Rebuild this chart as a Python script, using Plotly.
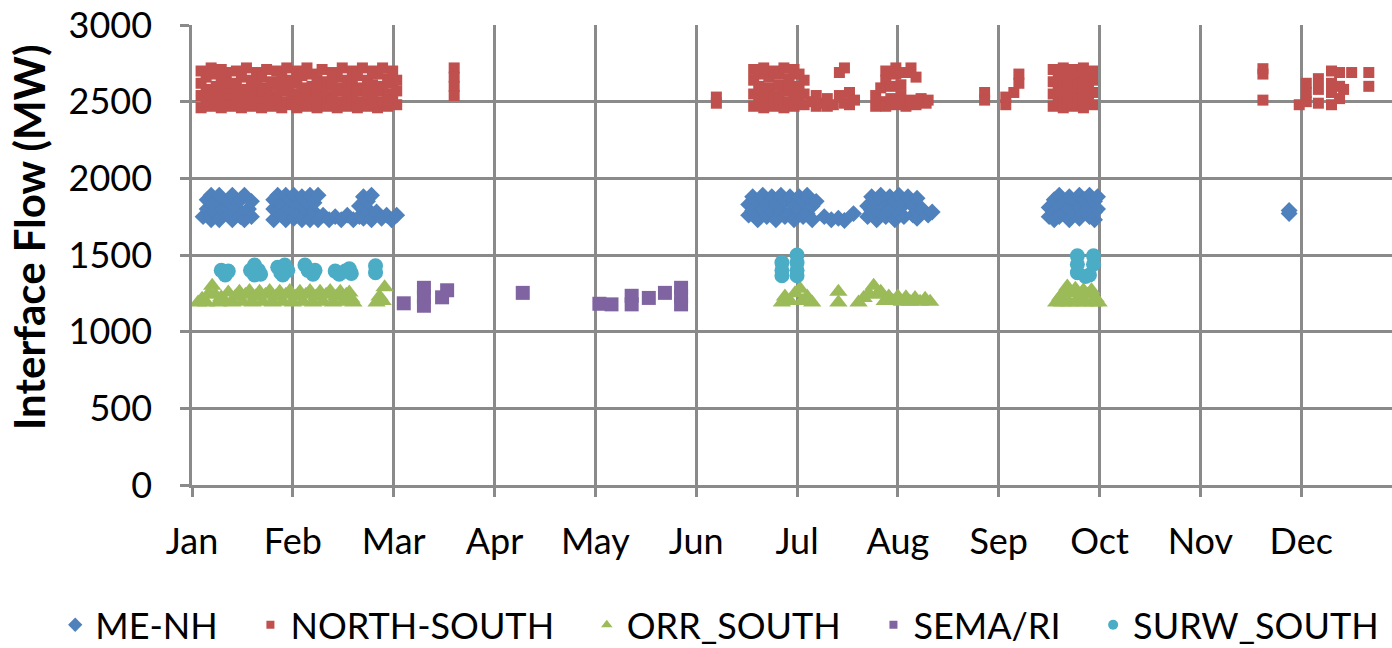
import plotly.graph_objects as go

# ---------------- data ----------------
months = ["Jan", "Feb", "Mar", "Apr", "May", "Jun", "Jul", "Aug", "Sep", "Oct", "Nov", "Dec"]
month_pos = list(range(12))          # x position of each month start (month units)
y_ticks = [0, 500, 1000, 1500, 2000, 2500, 3000]

series_names = ["ME-NH", "NORTH-SOUTH", "ORR_SOUTH", "SEMA/RI", "SURW_SOUTH"]
series_colors = ["#4F81BD", "#C0504D", "#9BBB59", "#8064A2", "#4BACC6"]

# (month position, MW)
me_nh = [
    (0.11, 1750), (0.15, 1800), (0.15, 1860), (0.19, 1730), (0.19, 1890), (0.23, 1780), (0.23, 1840),
    (0.27, 1730), (0.27, 1890), (0.31, 1800), (0.36, 1760), (0.36, 1850), (0.40, 1730), (0.40, 1890),
    (0.44, 1810), (0.48, 1750), (0.48, 1860), (0.52, 1890), (0.52, 1730), (0.56, 1800), (0.59, 1750),
    (0.59, 1850),
    (0.81, 1730), (0.81, 1800), (0.81, 1860), (0.85, 1890), (0.89, 1760), (0.89, 1830), (0.93, 1730),
    (0.93, 1890), (0.97, 1800), (0.97, 1860), (1.01, 1740), (1.01, 1890), (1.05, 1820), (1.05, 1770),
    (1.09, 1730), (1.09, 1880), (1.13, 1800), (1.13, 1850), (1.17, 1730), (1.17, 1890), (1.21, 1780),
    (1.21, 1840), (1.25, 1730), (1.25, 1890), (1.30, 1760), (1.36, 1730), (1.42, 1750), (1.48, 1730),
    (1.54, 1760), (1.60, 1730), (1.66, 1750), (1.66, 1820), (1.70, 1880), (1.70, 1740), (1.74, 1800),
    (1.74, 1850), (1.78, 1730), (1.78, 1890), (1.83, 1780), (1.88, 1740), (1.93, 1760), (1.98, 1730),
    (2.03, 1760),
    (5.52, 1760), (5.52, 1830), (5.56, 1790), (5.56, 1880), (5.61, 1730), (5.61, 1850), (5.66, 1800),
    (5.66, 1890), (5.70, 1750), (5.70, 1840), (5.75, 1880), (5.75, 1780), (5.79, 1730), (5.79, 1830),
    (5.84, 1890), (5.84, 1790), (5.88, 1750), (5.88, 1850), (5.93, 1880), (5.93, 1770), (5.97, 1730),
    (5.97, 1820), (6.02, 1880), (6.02, 1790), (6.06, 1750), (6.06, 1850), (6.10, 1890), (6.10, 1770),
    (6.15, 1730), (6.15, 1820), (6.19, 1850), (6.27, 1750), (6.34, 1730), (6.41, 1740), (6.47, 1725),
    (6.56, 1770),
    (6.70, 1750), (6.70, 1820), (6.74, 1880), (6.74, 1790), (6.79, 1730), (6.79, 1850), (6.83, 1890),
    (6.83, 1770), (6.88, 1750), (6.88, 1820), (6.92, 1880), (6.92, 1790), (6.97, 1730), (6.97, 1850),
    (7.01, 1890), (7.01, 1770), (7.06, 1750), (7.06, 1830), (7.10, 1880), (7.15, 1760), (7.15, 1820),
    (7.19, 1870), (7.19, 1740), (7.24, 1800), (7.30, 1760), (7.34, 1780),
    (8.50, 1750), (8.50, 1810), (8.55, 1860), (8.55, 1780), (8.55, 1730), (8.60, 1890), (8.60, 1820),
    (8.60, 1750), (8.65, 1840), (8.65, 1770), (8.70, 1880), (8.70, 1800), (8.70, 1730), (8.75, 1850),
    (8.75, 1770), (8.80, 1890), (8.80, 1810), (8.80, 1740), (8.85, 1860), (8.85, 1780), (8.90, 1890),
    (8.90, 1820), (8.90, 1750), (8.95, 1850), (8.95, 1780), (8.95, 1730), (8.98, 1880), (8.98, 1800),
    (10.88, 1770), (10.88, 1790),
]

north_south = [
    (0.09, 2460), (0.09, 2540), (0.09, 2620), (0.09, 2700), (0.14, 2500), (0.14, 2580), (0.14, 2660),
    (0.19, 2470), (0.19, 2550), (0.19, 2720), (0.24, 2510), (0.24, 2600), (0.24, 2680), (0.29, 2460),
    (0.29, 2560), (0.29, 2640), (0.29, 2710), (0.34, 2500), (0.34, 2590), (0.34, 2690), (0.39, 2470),
    (0.39, 2550), (0.39, 2620), (0.44, 2520), (0.44, 2600), (0.44, 2700), (0.49, 2460), (0.49, 2560),
    (0.49, 2660), (0.54, 2500), (0.54, 2580), (0.54, 2720), (0.59, 2470), (0.59, 2540), (0.59, 2640),
    (0.64, 2510), (0.64, 2600), (0.64, 2690), (0.69, 2460), (0.69, 2560), (0.69, 2660), (0.74, 2500),
    (0.74, 2590), (0.74, 2710), (0.79, 2470), (0.79, 2540), (0.79, 2630), (0.84, 2510), (0.84, 2610),
    (0.84, 2700), (0.89, 2460), (0.89, 2570), (0.89, 2660), (0.94, 2500), (0.94, 2600), (0.94, 2720),
    (0.99, 2480), (0.99, 2550), (0.99, 2640), (1.04, 2460), (1.04, 2530), (1.04, 2620), (1.04, 2700),
    (1.09, 2500), (1.09, 2590), (1.09, 2670), (1.14, 2470), (1.14, 2550), (1.14, 2720), (1.19, 2510),
    (1.19, 2600), (1.19, 2680), (1.24, 2460), (1.24, 2560), (1.24, 2640), (1.29, 2500), (1.29, 2590),
    (1.29, 2710), (1.34, 2470), (1.34, 2540), (1.34, 2630), (1.39, 2510), (1.39, 2610), (1.39, 2690),
    (1.44, 2460), (1.44, 2570), (1.44, 2660), (1.49, 2500), (1.49, 2590), (1.49, 2720), (1.54, 2470),
    (1.54, 2550), (1.54, 2640), (1.59, 2510), (1.59, 2600), (1.59, 2700), (1.64, 2460), (1.64, 2570),
    (1.64, 2670), (1.69, 2500), (1.69, 2590), (1.69, 2720), (1.74, 2470), (1.74, 2550), (1.74, 2640),
    (1.79, 2520), (1.79, 2610), (1.79, 2700), (1.84, 2460), (1.84, 2570), (1.84, 2680), (1.89, 2500),
    (1.89, 2600), (1.89, 2720), (1.94, 2470), (1.94, 2550), (1.94, 2650), (1.99, 2510), (1.99, 2620),
    (1.99, 2700), (2.03, 2480), (2.03, 2570), (2.03, 2640),
    (2.60, 2720), (2.60, 2660), (2.60, 2600), (2.60, 2540),
    (5.20, 2530), (5.20, 2490),
    (5.57, 2470), (5.57, 2550), (5.57, 2640), (5.57, 2710), (5.62, 2510), (5.62, 2600), (5.62, 2680),
    (5.67, 2460), (5.67, 2560), (5.67, 2720), (5.72, 2500), (5.72, 2590), (5.72, 2660), (5.77, 2470),
    (5.77, 2540), (5.77, 2700), (5.82, 2520), (5.82, 2610), (5.82, 2680), (5.87, 2460), (5.87, 2570),
    (5.87, 2720), (5.92, 2500), (5.92, 2580), (5.92, 2650), (5.97, 2470), (5.97, 2560), (5.97, 2710),
    (6.02, 2510), (6.02, 2600), (6.02, 2680), (6.07, 2480), (6.07, 2550), (6.07, 2640),
    (6.14, 2500), (6.19, 2470), (6.19, 2540), (6.25, 2490), (6.30, 2520), (6.30, 2470), (6.36, 2480),
    (6.42, 2540), (6.42, 2690), (6.47, 2490), (6.47, 2720), (6.52, 2560), (6.52, 2480), (6.57, 2510),
    (6.78, 2470), (6.78, 2540), (6.83, 2500), (6.83, 2590), (6.88, 2470), (6.88, 2640), (6.88, 2700),
    (6.93, 2520), (6.93, 2600), (6.98, 2480), (6.98, 2680), (6.98, 2720), (7.03, 2540), (7.03, 2610),
    (7.08, 2470), (7.08, 2690), (7.13, 2510), (7.13, 2720), (7.18, 2480), (7.18, 2660), (7.23, 2520),
    (7.28, 2490), (7.30, 2510),
    (7.86, 2560), (7.86, 2510), (8.07, 2480), (8.07, 2530), (8.20, 2680), (8.20, 2620), (8.15, 2560),
    (8.54, 2470), (8.54, 2550), (8.54, 2630), (8.54, 2710), (8.59, 2500), (8.59, 2590), (8.59, 2680),
    (8.64, 2460), (8.64, 2540), (8.64, 2620), (8.64, 2720), (8.69, 2510), (8.69, 2600), (8.69, 2670),
    (8.74, 2470), (8.74, 2560), (8.74, 2640), (8.74, 2710), (8.79, 2500), (8.79, 2590), (8.79, 2680),
    (8.84, 2460), (8.84, 2550), (8.84, 2620), (8.84, 2720), (8.89, 2510), (8.89, 2600), (8.89, 2670),
    (8.93, 2480), (8.93, 2560), (8.93, 2640), (8.93, 2700),
    (10.62, 2715), (10.62, 2680), (10.62, 2510),
    (10.98, 2480), (11.05, 2620), (11.05, 2560), (11.05, 2500), (11.17, 2650), (11.17, 2580),
    (11.17, 2490), (11.30, 2700), (11.30, 2620), (11.30, 2560), (11.30, 2480), (11.38, 2690),
    (11.38, 2600), (11.38, 2520), (11.42, 2580), (11.50, 2690), (11.67, 2690), (11.67, 2600),
]

orr_south = [
    (0.06, 1190), (0.10, 1215), (0.14, 1190), (0.17, 1250), (0.20, 1300), (0.23, 1240), (0.26, 1190),
    (0.29, 1225), (0.33, 1195), (0.36, 1255), (0.40, 1190), (0.43, 1230), (0.47, 1260), (0.50, 1195),
    (0.53, 1240), (0.57, 1265), (0.60, 1190), (0.63, 1230), (0.67, 1260), (0.70, 1195), (0.73, 1240),
    (0.77, 1265), (0.80, 1190), (0.83, 1230), (0.87, 1260), (0.90, 1195), (0.93, 1240), (0.97, 1265),
    (1.00, 1190), (1.03, 1230), (1.07, 1260), (1.10, 1195), (1.13, 1240), (1.17, 1265), (1.20, 1190),
    (1.23, 1230), (1.27, 1260), (1.30, 1195), (1.33, 1240), (1.37, 1265), (1.40, 1190), (1.43, 1230),
    (1.47, 1260), (1.50, 1195), (1.53, 1240), (1.56, 1255), (1.58, 1215), (1.60, 1190),
    (1.83, 1190), (1.86, 1230), (1.89, 1200), (1.91, 1290),
    (5.85, 1190), (5.88, 1230), (5.93, 1200), (5.98, 1250), (6.03, 1280), (6.05, 1200), (6.10, 1230),
    (6.15, 1190), (6.41, 1190), (6.41, 1260),
    (6.61, 1190), (6.66, 1220), (6.71, 1250), (6.76, 1300), (6.79, 1240), (6.83, 1260), (6.87, 1200),
    (6.91, 1230), (6.95, 1200), (7.00, 1230), (7.04, 1195), (7.08, 1225), (7.12, 1195), (7.17, 1220),
    (7.22, 1195), (7.27, 1215), (7.32, 1195),
    (8.57, 1190), (8.61, 1230), (8.63, 1190), (8.65, 1260), (8.68, 1295), (8.70, 1190), (8.72, 1250),
    (8.76, 1280), (8.78, 1190), (8.80, 1230), (8.84, 1270), (8.86, 1190), (8.88, 1240), (8.92, 1270),
    (8.94, 1190), (8.96, 1220), (8.99, 1190),
]

sema_ri = [
    (2.10, 1185), (2.30, 1286), (2.30, 1228), (2.30, 1169), (2.48, 1224), (2.53, 1270), (3.28, 1253),
    (4.04, 1182), (4.16, 1178), (4.36, 1234), (4.36, 1178), (4.53, 1220), (4.69, 1253), (4.85, 1286),
    (4.85, 1230), (4.85, 1178),
]

surw_south = [
    (0.29, 1400), (0.33, 1370), (0.36, 1395),
    (0.58, 1400), (0.62, 1435), (0.66, 1400), (0.68, 1375), (0.62, 1370),
    (0.85, 1420), (0.88, 1385), (0.92, 1435), (0.95, 1400), (0.90, 1370),
    (1.12, 1435), (1.15, 1400), (1.20, 1375), (1.22, 1400),
    (1.42, 1395), (1.46, 1375), (1.52, 1395), (1.56, 1410), (1.58, 1380),
    (1.82, 1430), (1.82, 1385),
    (5.85, 1450), (5.85, 1400), (5.85, 1365), (6.00, 1500), (6.00, 1450), (6.00, 1400), (6.00, 1365),
    (8.78, 1495), (8.78, 1440), (8.78, 1385), (8.94, 1495), (8.94, 1440), (8.90, 1370), (8.86, 1360),
]

# ---------------- figure ----------------
all_series = [me_nh, north_south, orr_south, sema_ri, surw_south]
symbols = ["diamond", "square", "triangle-up", "square", "circle"]
sizes = [13, 11, 16, 14, 15]
legend_sizes = [11, 8, 10, 8, 10]
PAD = "\u00a0\u00a0\u00a0"   # extra spacing between legend entries

FONT = "Lato, 'Open Sans', sans-serif"
GRID = "#8A8A8A"

fig = go.Figure()
for pts, name, col, sym, sz in zip(all_series, series_names, series_colors, symbols, sizes):
    fig.add_trace(go.Scatter(
        x=[p[0] for p in pts], y=[p[1] for p in pts], mode="markers", name=name,
        marker=dict(symbol=sym, size=sz, color=col, line=dict(width=0)),
        showlegend=False, cliponaxis=False, hoverinfo="skip",
    ))
# legend entries with small markers
for i, (name, col, sym, sz) in enumerate(zip(series_names, series_colors, symbols, legend_sizes)):
    fig.add_trace(go.Scatter(
        x=[None], y=[None], mode="markers",
        name=name + (PAD if i < len(series_names) - 1 else ""),
        marker=dict(symbol=sym, size=sz, color=col, line=dict(width=0)),
        showlegend=True,
    ))

fig.update_layout(
    width=1392, height=648,
    margin=dict(l=192, r=0, t=25, b=163, autoexpand=False),
    paper_bgcolor="white", plot_bgcolor="white",
    font=dict(family=FONT, size=36, color="#000000"),
    legend=dict(orientation="h", x=-0.114, xanchor="left", y=-0.304, yanchor="middle",
                font=dict(family=FONT, size=36, color="#000000"), itemsizing="trace",
                bgcolor="rgba(0,0,0,0)"),
    xaxis=dict(
        range=[0, 11.9], tickmode="array", tickvals=month_pos, ticktext=months,
        showgrid=True, gridcolor=GRID, gridwidth=2.5,
        showline=True, linecolor=GRID, linewidth=2.5,
        ticks="outside", ticklen=9, tickcolor=GRID, tickwidth=2.5,
        ticklabelstandoff=14, zeroline=False,
        tickfont=dict(family=FONT, size=36, color="#000000"),
    ),
    yaxis=dict(
        range=[0, 3000], tickmode="array", tickvals=y_ticks,
        showgrid=True, gridcolor=GRID, gridwidth=2.5,
        showline=True, linecolor=GRID, linewidth=2.5,
        ticks="outside", ticklen=9, tickcolor=GRID, tickwidth=2.5,
        ticklabelstandoff=21, zeroline=False,
        tickfont=dict(family=FONT, size=36, color="#000000"),
        automargin=False,
    ),
    annotations=[dict(
        text="<b>Interface Flow (MW)</b>", textangle=-90,
        xref="paper", yref="paper", x=-0.1358, y=0.537,
        xanchor="center", yanchor="middle", showarrow=False,
        font=dict(family=FONT, size=42, color="#000000"),
    )],
)

fig.write_html("out.html", config={"displayModeBar": False},
               post_script="document.body.style.margin='0';document.body.style.padding='0';")
